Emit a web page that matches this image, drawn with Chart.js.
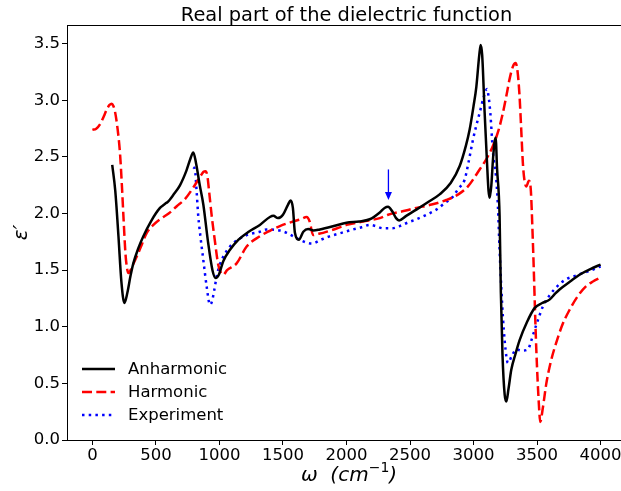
<!DOCTYPE html>
<html>
<head>
<meta charset="utf-8">
<script src="https://cdn.jsdelivr.net/npm/chart.js@4.4.0/dist/chart.umd.min.js"></script>
<style>
  html, body { margin: 0; padding: 0; background: #fff; overflow: hidden; }
  canvas { display: block; }
</style>
</head>
<body>
<canvas id="myChart" width="660" height="491"></canvas>
<script>
// wavenumber / epsilon' pairs
const anhX = [156, 180, 205, 228, 252, 275, 300, 322, 360, 401, 460, 532, 565, 575, 590, 640, 689, 740, 770, 794, 815, 845, 873, 910, 945, 970, 995, 1030, 1083, 1150, 1230, 1318, 1397, 1425, 1460, 1500, 1540, 1560, 1578, 1594, 1625, 1660, 1698, 1740, 1790, 1900, 2000, 2100, 2183, 2262, 2300, 2327, 2360, 2390, 2414, 2470, 2550, 2640, 2733, 2820, 2891, 2940, 2969, 3000, 3022, 3045, 3056, 3068, 3087, 3106, 3118, 3127, 3140, 3153, 3165, 3174, 3185, 3205, 3215, 3228, 3245, 3258, 3275, 3297, 3330, 3362, 3420, 3480, 3540, 3598, 3640, 3677, 3760, 3834, 3920, 4000];
const anhY = [2.43, 2.20, 1.80, 1.40, 1.21, 1.30, 1.45, 1.56, 1.69, 1.80, 1.93, 2.05, 2.08, 2.09, 2.10, 2.17, 2.25, 2.38, 2.48, 2.54, 2.45, 2.25, 2.08, 1.75, 1.50, 1.43, 1.46, 1.58, 1.68, 1.77, 1.84, 1.90, 1.97, 1.98, 1.96, 1.99, 2.08, 2.115, 2.05, 1.83, 1.77, 1.84, 1.865, 1.85, 1.86, 1.89, 1.92, 1.93, 1.95, 2.01, 2.05, 2.06, 2.02, 1.96, 1.94, 1.98, 2.035, 2.10, 2.17, 2.27, 2.42, 2.60, 2.74, 2.95, 3.12, 3.40, 3.49, 3.40, 2.90, 2.45, 2.20, 2.14, 2.25, 2.48, 2.63, 2.67, 2.40, 1.98, 1.30, 0.75, 0.40, 0.34, 0.45, 0.62, 0.76, 0.88, 1.04, 1.165, 1.21, 1.24, 1.29, 1.33, 1.40, 1.46, 1.51, 1.55];

const harX = [0, 30, 61, 90, 113, 135, 152, 165, 178, 198, 218, 232, 244, 260, 272, 283, 300, 320, 349, 390, 428, 480, 532, 600, 664, 730, 794, 850, 875, 891, 905, 920, 939, 965, 990, 1010, 1030, 1060, 1135, 1214, 1318, 1400, 1476, 1580, 1640, 1686, 1710, 1737, 1770, 1816, 1900, 2000, 2130, 2262, 2327, 2440, 2550, 2670, 2786, 2880, 2956, 3048, 3100, 3153, 3195, 3231, 3260, 3284, 3310, 3331, 3347, 3362, 3375, 3388, 3400, 3415, 3436, 3450, 3467, 3494, 3515, 3525, 3545, 3573, 3610, 3651, 3700, 3756, 3820, 3887, 3940, 3991];
const harY = [2.74, 2.75, 2.79, 2.86, 2.92, 2.96, 2.97, 2.95, 2.90, 2.75, 2.52, 2.25, 1.98, 1.65, 1.52, 1.475, 1.50, 1.55, 1.62, 1.73, 1.83, 1.90, 1.95, 2.00, 2.065, 2.13, 2.23, 2.33, 2.37, 2.375, 2.33, 2.18, 1.98, 1.75, 1.55, 1.48, 1.46, 1.50, 1.56, 1.71, 1.80, 1.85, 1.89, 1.93, 1.95, 1.97, 1.93, 1.81, 1.82, 1.83, 1.86, 1.90, 1.93, 1.96, 1.99, 2.02, 2.05, 2.08, 2.12, 2.17, 2.24, 2.39, 2.48, 2.60, 2.73, 2.89, 3.05, 3.19, 3.30, 3.33, 3.25, 3.04, 2.75, 2.45, 2.30, 2.24, 2.29, 2.22, 1.75, 0.80, 0.30, 0.16, 0.28, 0.50, 0.70, 0.86, 1.02, 1.15, 1.27, 1.36, 1.40, 1.43];

const expX = [794, 807, 820, 833, 850, 873, 900, 925, 940, 960, 978, 1000, 1030, 1083, 1109, 1214, 1318, 1371, 1476, 1530, 1580, 1659, 1725, 1800, 1869, 1960, 2052, 2120, 2183, 2230, 2288, 2360, 2419, 2480, 2550, 2630, 2707, 2770, 2838, 2880, 2930, 2960, 2995, 3020, 3048, 3080, 3106, 3120, 3132, 3153, 3179, 3192, 3205, 3231, 3258, 3271, 3300, 3336, 3380, 3428, 3455, 3480, 3510, 3546, 3600, 3660, 3729, 3800, 3860, 3930, 4000];
const expY = [2.41, 2.39, 2.20, 1.98, 1.80, 1.59, 1.35, 1.195, 1.22, 1.33, 1.445, 1.54, 1.62, 1.71, 1.74, 1.81, 1.84, 1.86, 1.85, 1.83, 1.80, 1.755, 1.735, 1.77, 1.80, 1.83, 1.86, 1.88, 1.90, 1.89, 1.87, 1.87, 1.89, 1.92, 1.95, 1.99, 2.035, 2.09, 2.15, 2.22, 2.30, 2.45, 2.65, 2.77, 2.89, 3.03, 3.10, 3.02, 2.89, 2.54, 2.30, 2.06, 1.68, 1.09, 0.74, 0.68, 0.74, 0.80, 0.79, 0.80, 0.88, 0.97, 1.07, 1.18, 1.28, 1.36, 1.42, 1.45, 1.475, 1.50, 1.535];

const xTicks = [0, 500, 1000, 1500, 2000, 2500, 3000, 3500, 4000];
const yTicks = [0.0, 0.5, 1.0, 1.5, 2.0, 2.5, 3.0, 3.5];

// arrow marking the small feature: x, y start, y end
const arrowX = 2330;
const arrowY = [2.39, 2.12];

const pts = (xs, ys) => xs.map((x, i) => ({ x: x, y: ys[i] }));

const FONT = "'DejaVu Sans', sans-serif";

const extras = {
  id: 'extras',
  afterDraw(chart) {
    const ctx = chart.ctx;
    const a = chart.chartArea;
    const xs = chart.scales.x, ys = chart.scales.y;
    ctx.save();

    // frame
    ctx.strokeStyle = '#000';
    ctx.lineWidth = 1;
    ctx.strokeRect(a.left + 0.5, a.top + 0.5, a.right - a.left, a.bottom - a.top);

    // arrow
    const ax = xs.getPixelForValue(arrowX);
    const ay0 = ys.getPixelForValue(arrowY[0]);
    const ay1 = ys.getPixelForValue(arrowY[1]);
    ctx.strokeStyle = 'blue';
    ctx.fillStyle = 'blue';
    ctx.lineWidth = 1.3;
    ctx.beginPath();
    ctx.moveTo(ax, ay0);
    ctx.lineTo(ax, ay1 - 6);
    ctx.stroke();
    ctx.beginPath();
    ctx.moveTo(ax - 3.5, ay1 - 8);
    ctx.lineTo(ax + 3.5, ay1 - 8);
    ctx.lineTo(ax, ay1);
    ctx.closePath();
    ctx.fill();

    // title
    ctx.fillStyle = '#000';
    ctx.textAlign = 'center';
    ctx.textBaseline = 'alphabetic';
    ctx.font = '19.4px ' + FONT;
    ctx.fillText('Real part of the dielectric function', (a.left + a.right) / 2, 21);

    // x label: omega (cm^-1)
    const parts = [
      { t: '\u03c9', f: 'italic 20px ' + FONT, dy: 0 },
      { t: '  (cm', f: 'italic 20px ' + FONT, dy: 0 },
      { t: '\u22121', f: '14px ' + FONT, dy: -9 },
      { t: ')', f: 'italic 20px ' + FONT, dy: 0 }
    ];
    let total = 0;
    parts.forEach(p => { ctx.font = p.f; p.w = ctx.measureText(p.t).width; total += p.w; });
    let cx = 349 - total / 2;
    ctx.textAlign = 'left';
    parts.forEach(p => { ctx.font = p.f; ctx.fillText(p.t, cx, 481 + p.dy); cx += p.w; });

    // y label: epsilon'
    ctx.translate(27, (a.top + a.bottom) / 2);
    ctx.rotate(-Math.PI / 2);
    ctx.textAlign = 'center';
    ctx.font = 'italic 20px ' + FONT;
    ctx.fillText('\u03b5\u2032', 0, 0);
    ctx.setTransform(1, 0, 0, 1, 0, 0);

    // legend
    const rows = chart.data.datasets;
    ctx.font = '16.5px ' + FONT;
    ctx.textAlign = 'left';
    ctx.textBaseline = 'middle';
    rows.forEach((ds, i) => {
      const y = 369 + i * 23;
      ctx.strokeStyle = ds.borderColor;
      ctx.lineWidth = ds.borderWidth;
      ctx.setLineDash(ds.borderDash || []);
      ctx.beginPath();
      ctx.moveTo(82, y);
      ctx.lineTo(115, y);
      ctx.stroke();
      ctx.setLineDash([]);
      ctx.fillStyle = '#000';
      ctx.fillText(ds.label, 128, y + 1);
    });
    ctx.restore();
  }
};

new Chart('myChart', {
  type: 'line',
  data: {
    datasets: [
      { label: 'Anharmonic', data: pts(anhX, anhY), borderColor: '#000', borderWidth: 2.5 },
      { label: 'Harmonic', data: pts(harX, harY), borderColor: '#ff0000', borderWidth: 2.5, borderDash: [10, 4.3] },
      { label: 'Experiment', data: pts(expX, expY), borderColor: '#0000ff', borderWidth: 2.5, borderDash: [2.5, 4.2] }
    ]
  },
  options: {
    responsive: false,
    animation: false,
    layout: { padding: { left: 0, right: 34, top: 25, bottom: 0 } },
    elements: {
      point: { radius: 0 },
      line: { cubicInterpolationMode: 'monotone', fill: false }
    },
    plugins: { legend: { display: false }, tooltip: { enabled: false }, title: { display: false } },
    scales: {
      x: {
        type: 'linear',
        min: -200,
        max: 4200,
        afterBuildTicks: s => { s.ticks = xTicks.map(v => ({ value: v })); },
        afterFit: s => { s.height = 51; },
        grid: { display: true, drawOnChartArea: false, drawTicks: true, tickLength: 5, color: '#000' },
        border: { display: true, color: '#000', width: 1 },
        ticks: { color: '#000', padding: 1, maxRotation: 0, autoSkip: false, font: { family: FONT, size: 16.5 }, callback: v => String(v) }
      },
      y: {
        type: 'linear',
        min: 0,
        max: 3.666,
        afterBuildTicks: s => { s.ticks = yTicks.map(v => ({ value: v })); },
        afterFit: s => { s.width = 67; },
        grid: { display: true, drawOnChartArea: false, drawTicks: true, tickLength: 5, color: '#000' },
        border: { display: true, color: '#000', width: 1 },
        ticks: { color: '#000', padding: 2, autoSkip: false, font: { family: FONT, size: 16.5 }, callback: v => v.toFixed(1) }
      }
    }
  },
  plugins: [extras]
});
</script>
</body>
</html>
